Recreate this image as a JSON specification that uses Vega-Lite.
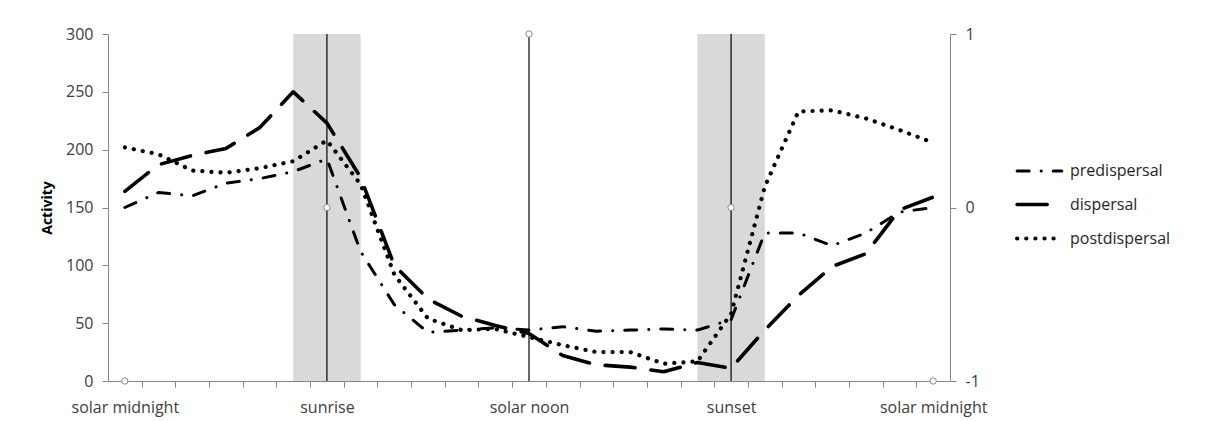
{
  "$schema": "https://vega.github.io/schema/vega-lite/v6.json",
  "autosize": {"type": "none"},
  "width": 842,
  "height": 347,
  "padding": {"left": 108, "top": 34, "right": 255, "bottom": 40},
  "background": "white",
  "config": {
    "view": {"stroke": null},
    "font": "Open Sans",
    "axis": {"labelFont": "Open Sans", "titleFont": "Open Sans", "domainColor": "#868686", "tickColor": "#868686", "labelColor": "#404040", "grid": false}
  },
  "datasets": {
    "activity": [
      {"h":0,"series":"predispersal","v":150},{"h":1,"series":"predispersal","v":163},{"h":2,"series":"predispersal","v":160},{"h":3,"series":"predispersal","v":171},{"h":4,"series":"predispersal","v":175},{"h":5,"series":"predispersal","v":181},{"h":6,"series":"predispersal","v":192},{"h":7,"series":"predispersal","v":112},{"h":8,"series":"predispersal","v":66},{"h":9,"series":"predispersal","v":42},{"h":10,"series":"predispersal","v":44},{"h":11,"series":"predispersal","v":46},{"h":12,"series":"predispersal","v":44},{"h":13,"series":"predispersal","v":47},{"h":14,"series":"predispersal","v":43},{"h":15,"series":"predispersal","v":44},{"h":16,"series":"predispersal","v":45},{"h":17,"series":"predispersal","v":44},{"h":18,"series":"predispersal","v":53},{"h":19,"series":"predispersal","v":128},{"h":20,"series":"predispersal","v":128},{"h":21,"series":"predispersal","v":117},{"h":22,"series":"predispersal","v":128},{"h":23,"series":"predispersal","v":146},{"h":24,"series":"predispersal","v":150},
      {"h":0,"series":"dispersal","v":164},{"h":1,"series":"dispersal","v":187},{"h":2,"series":"dispersal","v":195},{"h":3,"series":"dispersal","v":201},{"h":4,"series":"dispersal","v":219},{"h":5,"series":"dispersal","v":250},{"h":6,"series":"dispersal","v":223},{"h":7,"series":"dispersal","v":176},{"h":8,"series":"dispersal","v":100},{"h":9,"series":"dispersal","v":71},{"h":10,"series":"dispersal","v":56},{"h":11,"series":"dispersal","v":48},{"h":12,"series":"dispersal","v":41},{"h":13,"series":"dispersal","v":22},{"h":14,"series":"dispersal","v":14},{"h":15,"series":"dispersal","v":12},{"h":16,"series":"dispersal","v":8},{"h":17,"series":"dispersal","v":16},{"h":18,"series":"dispersal","v":11},{"h":19,"series":"dispersal","v":44},{"h":20,"series":"dispersal","v":74},{"h":21,"series":"dispersal","v":99},{"h":22,"series":"dispersal","v":110},{"h":23,"series":"dispersal","v":148},{"h":24,"series":"dispersal","v":159},
      {"h":0,"series":"postdispersal","v":202},{"h":1,"series":"postdispersal","v":196},{"h":2,"series":"postdispersal","v":182},{"h":3,"series":"postdispersal","v":180},{"h":4,"series":"postdispersal","v":184},{"h":5,"series":"postdispersal","v":190},{"h":6,"series":"postdispersal","v":208},{"h":7,"series":"postdispersal","v":170},{"h":8,"series":"postdispersal","v":92},{"h":9,"series":"postdispersal","v":54},{"h":10,"series":"postdispersal","v":44},{"h":11,"series":"postdispersal","v":45},{"h":12,"series":"postdispersal","v":38},{"h":13,"series":"postdispersal","v":31},{"h":14,"series":"postdispersal","v":25},{"h":15,"series":"postdispersal","v":25},{"h":16,"series":"postdispersal","v":15},{"h":17,"series":"postdispersal","v":17},{"h":18,"series":"postdispersal","v":58},{"h":19,"series":"postdispersal","v":168},{"h":20,"series":"postdispersal","v":233},{"h":21,"series":"postdispersal","v":234},{"h":22,"series":"postdispersal","v":227},{"h":23,"series":"postdispersal","v":217},{"h":24,"series":"postdispersal","v":206}
    ],
    "bands": [{"h": 5, "h2": 7}, {"h": 17, "h2": 19}],
    "events": [
      {"h": 0, "m": -1, "event": "solar midnight"},
      {"h": 6, "m": 0, "event": "sunrise"},
      {"h": 12, "m": 1, "event": "solar noon"},
      {"h": 18, "m": 0, "event": "sunset"},
      {"h": 24, "m": -1, "event": "solar midnight"}
    ]
  },
  "encoding": {
    "x": {"field": "h", "type": "quantitative", "scale": {"domain": [-0.5, 24.5], "nice": false, "zero": false},
      "axis": {
        "values": [0, 0.5, 1.5, 2.5, 3.5, 4.5, 5.5, 6, 6.5, 7.5, 8.5, 9.5, 10.5, 11.5, 12, 12.5, 13.5, 14.5, 15.5, 16.5, 17.5, 18, 18.5, 19.5, 20.5, 21.5, 22.5, 23.5, 24],
        "labelExpr": "datum.value == 0 || datum.value == 24 ? 'solar midnight' : datum.value == 6 ? 'sunrise' : datum.value == 12 ? 'solar noon' : datum.value == 18 ? 'sunset' : ''",
        "tickOpacity": {"condition": {"test": "datum.value % 1 === 0", "value": 0}, "value": 1},
        "tickSize": 6,
        "labelPadding": 12,
        "labelFontSize": 16,
        "labelOverlap": false,
        "labelFlush": false,
        "labelBound": false,
        "title": null
      }}
  },
  "layer": [
    {
      "data": {"name": "bands"},
      "mark": {"type": "rect", "color": "#d9d9d9"},
      "encoding": {"x2": {"field": "h2"}}
    },
    {
      "data": {"name": "events"},
      "transform": [{"filter": "datum.event != 'solar midnight'"}],
      "mark": {"type": "rule", "color": "#000", "strokeWidth": 1.2},
      "encoding": {}
    },
    {
      "data": {"name": "activity"},
      "mark": {"type": "line", "color": "black", "strokeCap": "round", "strokeJoin": "round"},
      "encoding": {
        "y": {"field": "v", "type": "quantitative", "scale": {"domain": [0, 300], "nice": false},
          "axis": {"orient": "left", "values": [0, 50, 100, 150, 200, 250, 300], "title": "Activity", "titleFontWeight": "bold", "titleFontSize": 14, "titleColor": "#000", "titlePadding": 11, "labelFontSize": 16, "tickSize": 6, "labelPadding": 9}},
        "strokeDash": {"field": "series", "type": "nominal", "sort": ["predispersal", "dispersal", "postdispersal"],
          "scale": {"domain": ["predispersal", "dispersal", "postdispersal"], "range": [[12, 12, 0.1, 12], [30, 16], [0.1, 9]]},
          "legend": {"title": null, "orient": "none", "legendX": 907, "legendY": 113, "symbolType": "stroke", "symbolSize": 2000, "symbolStrokeColor": "black", "labelFontSize": 16, "labelColor": "#262626", "labelFont": "Open Sans", "rowPadding": 1, "labelOffset": 6,
            "encode": {"symbols": {"update": {"strokeCap": {"value": "round"}}}}}},
        "strokeWidth": {"field": "series", "type": "nominal",
          "scale": {"domain": ["predispersal", "dispersal", "postdispersal"], "range": [3, 4.2, 3.6]},
          "legend": {"title": null, "orient": "none", "legendX": 907, "legendY": 113, "symbolType": "stroke", "symbolSize": 2000, "symbolStrokeColor": "black", "labelFontSize": 16, "labelColor": "#262626", "labelFont": "Open Sans", "rowPadding": 1, "labelOffset": 6,
            "encode": {"symbols": {"update": {"strokeCap": {"value": "round"}}}}}}
      }
    },
    {
      "data": {"name": "events"},
      "mark": {"type": "point", "shape": "circle", "size": 40, "stroke": "#8c8c8c", "fill": "white", "filled": true, "strokeWidth": 1, "opacity": 1},
      "encoding": {
        "y": {"field": "m", "type": "quantitative", "scale": {"domain": [-1, 1], "nice": false},
          "axis": {"orient": "right", "values": [-1, 0, 1], "labelExpr": "'' + datum.value", "title": null, "labelFontSize": 16, "tickSize": 6, "labelPadding": 9}}
      }
    }
  ],
  "resolve": {"scale": {"y": "independent"}}
}
